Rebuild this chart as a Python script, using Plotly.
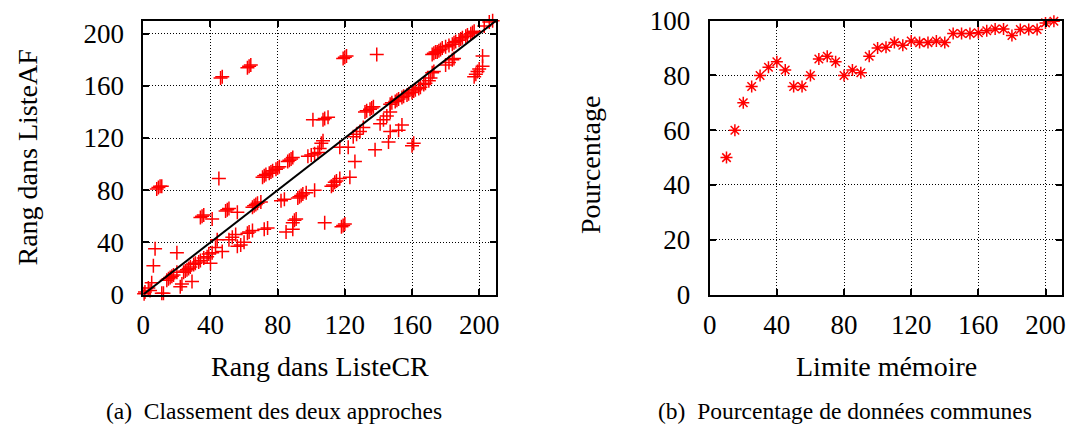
import plotly.graph_objects as go

# ---------------- data: (a) ranks ----------------
rank_cr = [
    0.5, 1, 3, 5, 4, 6, 7,
    8, 9, 10, 11,
    11, 12,
    14, 15, 16, 17, 18, 20,
    20,
    22, 23,
    24, 25, 26, 27, 28, 30, 31, 33, 34, 36, 38, 39,
    29,
    34, 35, 36,
    40, 41,
    41, 43, 44,
    45, 46, 47, 47,
    49, 50, 51,
    51, 53, 55,
    56, 56, 58, 60,
    62, 63, 64,
    62, 63, 65,
    65, 66, 67, 68, 70,
    72, 74,
    71, 72, 73, 75, 76, 77, 79, 80, 81,
    82, 84, 85, 89,
    86, 87, 88, 89,
    89, 90, 91,
    92, 93, 94, 95, 97,
    98, 100, 102, 104,
    101, 102,
    105, 106, 107,
    107, 108, 110,
    108,
    112, 113, 114, 115, 117,
    117, 122,
    118, 119, 120,
    119, 120, 121,
    123, 126,
    125, 127, 129, 131,
    132, 133, 135, 136, 137,
    138, 139,
    141, 143, 145, 147,
    146, 147, 152, 154,
    147, 148, 150, 151, 152, 154, 155, 157, 158, 160,
    160, 161,
    161, 162, 164, 165, 167, 168, 170, 171,
    172, 173,
    172, 173, 174, 175, 176, 177, 178, 180, 182, 184, 185, 186, 188, 189, 190, 192, 193, 195, 196, 197,
    180, 182, 184, 185,
    197, 198, 199, 200, 202,
    202,
    203, 206, 208,
]
rank_af = [
    0.5, 2, 5, 9, 3, 22, 35,
    81, 82, 83, 83,
    1, 1,
    11, 12, 13, 14, 15, 17,
    32,
    6, 8,
    17, 18, 19, 20, 21, 23, 24, 25, 26, 28, 29, 31,
    10,
    59, 60, 61,
    24, 58,
    32, 36, 42,
    89, 166, 167, 33,
    64, 65, 66,
    42, 44, 46,
    63, 37, 38, 40,
    174, 175, 176,
    47, 48, 49,
    67, 68, 69, 70, 71,
    50, 51,
    90, 91, 92, 93, 94, 95, 96, 97, 98,
    72, 73, 48, 50,
    102, 103, 104, 105,
    55, 57, 58,
    74, 75, 76, 77, 78,
    106, 107, 108, 109,
    134, 80,
    112, 116, 118,
    134, 135, 136,
    55,
    83, 84, 86, 87, 89,
    113, 113,
    52, 53, 54,
    181, 182, 183,
    90, 102,
    121, 123, 125, 128,
    140, 141, 142, 143, 144,
    111, 184,
    131, 134, 137, 140,
    117, 125, 126, 130,
    146, 147, 148, 149, 150, 151, 152, 153, 154, 155,
    114, 116,
    156, 157, 158, 159, 161, 162, 164, 166,
    170, 171,
    184, 185, 186, 186, 187, 188, 189, 190, 191, 192, 193, 194, 195, 196, 197, 198, 199, 200, 201, 202,
    176, 178, 180, 181,
    167, 169, 171, 173, 175,
    183,
    206, 209, 210,
]
diag_x = [0, 210]

# ---------------- data: (b) percentage ----------------
mem_limit = [10, 15, 20, 25, 30, 35, 40, 45, 50, 55, 60, 65, 70, 75, 80, 85, 90, 95,
             100, 105, 110, 115, 120, 125, 130, 135, 140, 145, 150, 155, 160, 165,
             170, 175, 180, 185, 190, 195, 200, 205]
pct_common = [50, 60, 70, 76, 80, 83, 85, 82, 76, 76, 80, 86, 87, 85, 80, 82, 81, 87,
              90, 90.3, 92, 91, 92.6, 92, 92, 92.6, 92, 95.3, 95.3, 95.3, 95.6, 96.3,
              97, 97, 94.6, 96.8, 96.8, 96.8, 99.2, 99.8]

x_ticks_a = [0, 40, 80, 120, 160, 200]
y_ticks_a = [0, 40, 80, 120, 160, 200]
x_ticks_b = [0, 40, 80, 120, 160, 200]
y_ticks_b = [0, 20, 40, 60, 80, 100]

FONT = "Liberation Serif"
W, H = 1075, 432

fig = go.Figure()
fig.add_trace(go.Scatter(
    x=rank_cr, y=rank_af, mode="markers",
    marker=dict(symbol="cross-thin-open", size=10, color="red",
                line=dict(color="red", width=1.5)),
    xaxis="x", yaxis="y", showlegend=False, cliponaxis=False))
fig.add_trace(go.Scatter(
    x=diag_x, y=diag_x, mode="lines", line=dict(color="black", width=2),
    xaxis="x", yaxis="y", showlegend=False))
fig.add_trace(go.Scatter(
    x=mem_limit, y=pct_common, mode="markers",
    marker=dict(symbol="asterisk-open", size=10, color="red",
                line=dict(color="red", width=1.5)),
    xaxis="x2", yaxis="y2", showlegend=False, cliponaxis=False))

def ax(rng, ticks, dom, anchor, standoff):
    return dict(
        range=rng, domain=dom, anchor=anchor, tickvals=ticks, automargin=False,
        ticks="inside", ticklen=6, tickwidth=1.5, tickcolor="black",
        showline=True, linewidth=2, linecolor="black", mirror="ticks",
        showgrid=True, gridcolor="black", gridwidth=1, griddash="1px,2px",
        zeroline=False, ticklabelstandoff=standoff,
        tickfont=dict(family=FONT, size=27, color="black"),
    )

ydom = [1 - 294.5 / H, 1 - 20.7 / H]
fig.update_layout(
    width=W, height=H, autosize=False,
    margin=dict(l=0, r=0, t=0, b=0, pad=0),
    paper_bgcolor="white", plot_bgcolor="white",
    xaxis=ax([0, 210], x_ticks_a, [143.3 / W, 496.0 / W], "y", 5),
    yaxis=ax([0, 210], y_ticks_a, ydom, "x", 12),
    xaxis2=ax([0, 210], x_ticks_b, [709.7 / W, 1062.3 / W], "y2", 5),
    yaxis2=ax([0, 100], y_ticks_b, ydom, "x2", 12),
)

def note(text, x, y, size, angle=0):
    fig.add_annotation(text=text, x=x / W, y=1 - y / H, xref="paper", yref="paper",
                       showarrow=False, textangle=angle, xanchor="center", yanchor="middle",
                       font=dict(family=FONT, size=size, color="black"))

note("Rang dans ListeCR", 319.7, 366, 28)
note("Limite mémoire", 886, 366, 28)
note("Rang dans ListeAF", 27, 157.5, 28, -90)
note("Pourcentage", 590, 165, 28, -90)
note("(a)\u00a0 Classement des deux approches", 273.5, 411, 23.5)
note("(b)\u00a0 Pourcentage de données communes", 845, 411, 23.5)

fig.write_html("out.html", config={"displayModeBar": False},
               post_script="document.body.style.margin='0';")
